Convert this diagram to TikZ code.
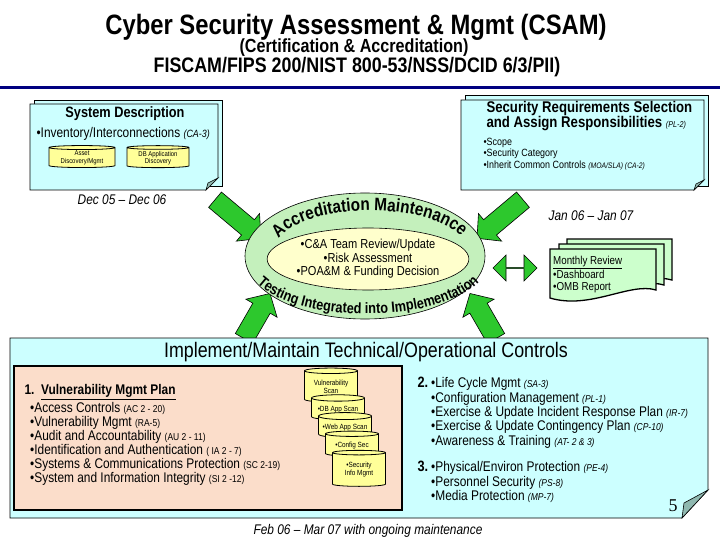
\documentclass[tikz,border=0pt]{standalone}
\usepackage{fontspec}
\setmainfont{Liberation Sans}[FakeStretch=0.85]
\newfontfamily\pagefont{Liberation Serif}
\usetikzlibrary{positioning, calc, shapes.geometric, shapes.arrows, decorations.text}
\definecolor{Navy}{HTML}{000080}
\definecolor{Sky}{HTML}{CCFFFF}
\definecolor{Fold}{HTML}{8FB8B0}
\definecolor{Mint}{HTML}{CCFFCC}
\definecolor{Ring}{HTML}{C4F0BC}
\definecolor{Cream}{HTML}{FFFFCC}
\definecolor{Peach}{HTML}{FBDDCA}
\definecolor{Drum}{HTML}{FFFF99}
\definecolor{Leaf}{HTML}{2DC82D}
\newcommand{\fsz}[2]{\fontsize{#1}{#2}\selectfont}
\newcommand{\tagit}[1]{{\itshape\fontsize{10}{12}\selectfont #1}}
\newcommand{\tagup}[1]{{\fontsize{10}{12}\selectfont #1}}
\newcommand{\arcbig}{\bfseries\fontsize{18}{18}\selectfont}
\newcommand{\arcsmall}{\bfseries\fontsize{15}{15}\selectfont}
\tikzset{
    pagebox/.style={draw=black, fill=Sky, line width=0.7pt},
    foldear/.style={draw=black, fill=Fold, line width=0.6pt},
    drum/.style={cylinder, shape border rotate=90, shape aspect=0.15, draw=black, line width=0.8pt, fill=Drum, align=center, inner sep=1pt, font=\fsz{7.5}{8}},
    docsheet/.style={draw=black, fill=Mint, line width=1.3pt},
    listtext/.style={anchor=north west, align=left, inner sep=0pt},
    pics/blockarrow/.style={code={
        \draw[draw=black, fill=Leaf, line width=0.6pt] (-#1/2,-10) -- (#1/2-17,-10) -- (#1/2-17,-18) -- (#1/2,0) -- (#1/2-17,18) -- (#1/2-17,10) -- (-#1/2,10) -- cycle;
    }},
}

\begin{document}
\begin{tikzpicture}[x=1pt, y=-1pt]
    \useasboundingbox[fill=white] (0,0) rectangle (720,540);

    % Titel
    \node[font=\bfseries\fsz{28}{30}] (title) at (356,27) {Cyber Security Assessment \& Mgmt (CSAM)};
    \node[font=\bfseries\fsz{19}{20}] (subtitle) at (354,48) {(Certification \& Accreditation)};
    \node[font=\bfseries\fsz{21}{22}] (standards) at (357,67) {FISCAM/FIPS 200/NIST 800-53/NSS/DCID 6/3/PII)};
    \draw[Navy, line width=3pt] (0,88) -- (720,88);

    % System Description
    \draw[pagebox] (34,100) -- (222,100) -- (222,186) -- (34,186) -- cycle;
    \draw[pagebox] (30,104) -- (218,104) -- (218,178) -- (206,190) -- (30,190) -- cycle;
    \draw[foldear] (206,190) -- (208,183) -- (218,178) -- cycle;
    \node[font=\bfseries\fsz{15}{16}] (sysdesc) at (125,114) {System Description};
    \node[anchor=west, font=\fsz{14}{15}] (inventory) at (33,134) {•Inventory/Interconnections {\itshape\fsz{10.5}{12}(CA-3)}};
    \node[drum, shape aspect=0.09, minimum width=66pt, minimum height=22pt, font=\fsz{7}{7.5}] (asset) at (82,158) {Asset\\Discovery/Mgmt};
    \node[drum, shape aspect=0.09, minimum width=62pt, minimum height=22pt, font=\fsz{7}{7.5}] (dbdisc) at (158,158) {DB Application\\Discovery};
    \node[font=\itshape\fsz{14}{15}] (datesys) at (122,200) {Dec 05 -- Dec 06};

    % Security Requirements
    \draw[pagebox] (465,95) -- (708,95) -- (708,186) -- (465,186) -- cycle;
    \draw[pagebox] (461,100) -- (704,100) -- (704,180) -- (694,190) -- (461,190) -- cycle;
    \draw[foldear] (694,190) -- (696,184) -- (704,180) -- cycle;
    \node[anchor=west, align=left, font=\bfseries\fsz{15.5}{15}] (secreq) at (483,116) {Security Requirements Selection\\and Assign Responsibilities {\mdseries\itshape\fsz{8.5}{10}(PL-2)}};
    \node[anchor=west, align=left, font=\fsz{10.5}{11.5}] (scope) at (480,154) {•Scope\\•Security Category\\•Inherit Common Controls {\itshape\fsz{8}{9}(MOA/SLA) (CA-2)}};
    \node[font=\itshape\fsz{14}{15}] (datesec) at (591,216) {Jan 06 -- Jan 07};

    % Pfeile
    \pic[rotate=-40] (flowsys) at (238,219) {blockarrow=60};
    \pic[rotate=-140] (flowsec) at (500,219) {blockarrow=60};
    \pic[rotate=60] (flowtest) at (257,316) {blockarrow=52};
    \pic[rotate=120] (flowimpl) at (483,316) {blockarrow=52};

    % Ellipse
    \node[ellipse, draw=black, fill=Ring, line width=0.6pt, minimum width=240pt, minimum height=126pt] (ring) at (365,256) {};
    \node[ellipse, draw=black, fill=Cream, line width=0.6pt, minimum width=190pt, minimum height=62pt, align=center, font=\fsz{13}{13.5}, inner sep=0pt] (core) at (368,259) {•C\&A Team Review/Update\\•Risk Assessment\\•POA\&M \& Funding Decision};
    \path[decorate, decoration={text along path, text align=center, text={|\arcbig|Accreditation Maintenance}}] (274,246) .. controls (294,199) and (444,199) .. (466,244);
    \path[decorate, decoration={text along path, text align=center, text={|\arcsmall|Testing Integrated into Implementation}}] (252,278) .. controls (288,326) and (448,326) .. (484,276);
    \node[double arrow, draw=black, fill=Leaf, line width=0.6pt, inner sep=0pt, minimum width=26pt, double arrow head extend=6pt, minimum height=44pt] (monthlink) at (515,268) {};

    % Monthly Review
    \draw[docsheet] (567,239) -- (672,239) -- (672,280) .. controls (646,272) and (606,300) .. (567,288) -- cycle;
    \draw[docsheet] (559,244) -- (664,244) -- (664,285) .. controls (638,277) and (598,305) .. (559,293) -- cycle;
    \draw[docsheet] (550,249) -- (656,249) -- (656,290) .. controls (630,282) and (590,310) .. (550,298) -- cycle;
    \node[listtext, font=\fsz{11.5}{12}] (monthly) at (553,256) {\underline{Monthly Review}\\•Dashboard\\•OMB Report};

    % Implement/Maintain
    \draw[pagebox] (10,338) -- (708,338) -- (708,490) -- (682,518) -- (10,518) -- cycle;
    \draw[foldear] (682,518) -- (684,503) -- (708,490) -- cycle;
    \node[font=\fsz{21}{22}] (implement) at (366,352) {Implement/Maintain Technical/Operational Controls};
    \draw[black, fill=Peach, line width=1.5pt] (14,366) rectangle (402,510);
    \node[anchor=west, font=\bfseries\fsz{14}{15}] (plan) at (21,392) {1.\ \ \underline{Vulnerability Mgmt Plan}};
    \node[listtext, font=\fsz{14}{14}] (planlist) at (30,402.5) {•Access Controls \tagup{(AC 2 - 20)}\\•Vulnerability Mgmt \tagup{(RA-5)}\\•Audit and Accountability \tagup{(AU 2 - 11)}\\•Identification and Authentication \tagup{( IA 2 - 7)}\\•Systems \& Communications Protection \tagup{(SC 2-19)}\\•System and Information Integrity \tagup{(SI 2 -12)}};
    \node[drum, minimum width=53pt, minimum height=34pt] (vulnscan) at (331,387) {Vulnerability\\Scan};
    \node[drum, minimum width=53pt, minimum height=25pt] (dbscan) at (338,409.5) {•DB App Scan};
    \node[drum, minimum width=53pt, minimum height=25pt] (webscan) at (345,427.5) {•Web App Scan};
    \node[drum, minimum width=53pt, minimum height=25pt] (configsec) at (352,445.5) {•Config Sec};
    \node[drum, minimum width=53pt, minimum height=36pt] (siem) at (359,470) {•Security\\Info Mgmt};

    \node[anchor=west, font=\bfseries\fsz{15}{16}] (step2) at (414,382) {2.};
    \node[listtext, font=\fsz{14}{14.3}] (lifecycle) at (431,377.5) {•Life Cycle Mgmt \tagit{(SA-3)}\\•Configuration Management \tagit{(PL-1)}\\•Exercise \& Update Incident Response Plan \tagit{(IR-7)}\\•Exercise \& Update Contingency Plan \tagit{(CP-10)}\\•Awareness \& Training \tagit{(AT- 2 \& 3)}};
    \node[anchor=west, font=\bfseries\fsz{15}{16}] (step3) at (414,466) {3.};
    \node[listtext, font=\fsz{14}{14.3}] (physical) at (431,461.5) {•Physical/Environ Protection \tagit{(PE-4)}\\•Personnel Security \tagit{(PS-8)}\\•Media Protection \tagit{(MP-7)}};
    \node[font=\pagefont\fsz{18}{18}] (pagenum) at (673,506) {5};
    \node[font=\itshape\fsz{14}{15}] (datectl) at (368,531) {Feb 06 -- Mar 07 with ongoing maintenance};
\end{tikzpicture}
\end{document}
